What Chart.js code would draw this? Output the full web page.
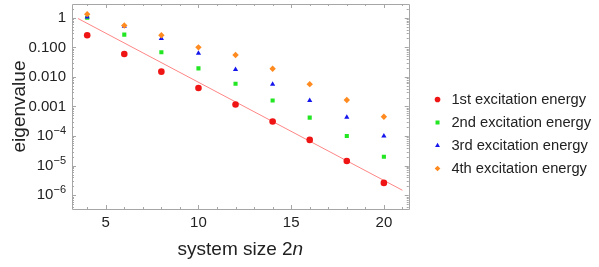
<!DOCTYPE html>
<html>
<head>
<meta charset="utf-8">
<script src="https://cdn.jsdelivr.net/npm/chart.js@4.4.0/dist/chart.umd.min.js"></script>
<style>
  html, body { margin: 0; padding: 0; background: #fff; }
  #wrap { width: 599px; height: 267px; }
</style>
</head>
<body>
<div id="wrap"><canvas id="chart"></canvas></div>
<script>
// system size 2n
const sizes = [4, 6, 8, 10, 12, 14, 16, 18, 20];
// eigenvalues
const first = [0.257, 0.060, 0.0151, 0.0042, 0.00117, 3.1e-4, 7.4e-5, 1.44e-5, 2.6e-6];
const second = [1.0, 0.27, 0.068, 0.0195, 0.0059, 0.0016, 4.2e-4, 1.0e-4, 2.0e-5];
const third = [1.07, 0.52, 0.20, 0.063, 0.018, 0.0057, 0.0016, 4.3e-4, 1.0e-4];
const fourth = [1.33, 0.55, 0.257, 0.10, 0.055, 0.019, 0.0057, 0.00166, 4.5e-4];
// fit line end points
const fitX = [3.5, 21];
const fitY = [0.95, 1.47e-6];

const seriesNames = ['1st excitation energy', '2nd excitation energy', '3rd excitation energy', '4th excitation energy'];
const xTicks = [5, 10, 15, 20];
const yTicks = [1e-6, 1e-5, 1e-4, 1e-3, 1e-2, 1e-1, 1];
const yTickLabels = ['10', '10', '10', '0.001', '0.010', '0.100', '1'];
const yTickExp = ['−6', '−5', '−4', '', '', '', ''];

const FONT = '"Liberation Sans", Arial, sans-serif';
Chart.defaults.font.family = FONT;
Chart.defaults.color = '#222';

const pts = (ys) => sizes.map((x, i) => ({ x: x, y: ys[i] }));

// frame + inward ticks, y labels with superscripts, x title with italic n
const framePlugin = {
    id: 'frame',
    beforeDatasetsDraw(c) {
        const ctx = c.ctx;
        const { left, right, top, bottom } = c.chartArea;
        const xs = c.scales.x, ys = c.scales.y;
        ctx.save();
        ctx.strokeStyle = '#a6a6a6';
        ctx.lineWidth = 1;
        ctx.beginPath();
        ctx.rect(Math.round(left) + 0.5, Math.round(top) + 0.5, Math.round(right - left), Math.round(bottom - top));
        for (let v = Math.ceil(xs.min); v <= xs.max; v++) {
            const len = xTicks.includes(v) ? 4 : 2;
            const px = Math.round(xs.getPixelForValue(v)) + 0.5;
            ctx.moveTo(px, bottom); ctx.lineTo(px, bottom - len);
            ctx.moveTo(px, top); ctx.lineTo(px, top + len);
        }
        for (let e = -7; e <= 0; e++) {
            for (let m = 1; m <= 9; m++) {
                const v = m * Math.pow(10, e);
                if (v < ys.min || v > ys.max) continue;
                const len = m === 1 ? 4 : 2;
                const py = Math.round(ys.getPixelForValue(v)) + 0.5;
                ctx.moveTo(left, py); ctx.lineTo(left + len, py);
                ctx.moveTo(right, py); ctx.lineTo(right - len, py);
            }
        }
        ctx.stroke();
        ctx.restore();
    },
    afterDraw(c) {
        const ctx = c.ctx;
        const { left, right } = c.chartArea;
        const ys = c.scales.y;
        ctx.save();
        ctx.fillStyle = '#222';
        ctx.textBaseline = 'middle';
        // y tick labels
        yTicks.forEach((v, i) => {
            const py = ys.getPixelForValue(v);
            const xr = left - 6;
            ctx.font = '11px ' + FONT;
            const we = ctx.measureText(yTickExp[i]).width;
            ctx.font = '15px ' + FONT;
            ctx.textAlign = 'right';
            ctx.fillText(yTickLabels[i], xr - we, py);
            if (yTickExp[i]) {
                ctx.font = '11px ' + FONT;
                ctx.fillText(yTickExp[i], xr, py - 5);
            }
        });
        // x title with italic n
        ctx.textAlign = 'left';
        const a = 'system size 2', b = 'n';
        ctx.font = '19px ' + FONT;
        const wa = ctx.measureText(a).width;
        ctx.font = 'italic 19px ' + FONT;
        const wb = ctx.measureText(b).width;
        const x0 = (left + right) / 2 - (wa + wb) / 2;
        ctx.font = '19px ' + FONT;
        ctx.fillText(a, x0, 250);
        ctx.font = 'italic 19px ' + FONT;
        ctx.fillText(b, x0 + wa, 250);
        ctx.restore();
    }
};

new Chart(document.getElementById('chart'), {
    type: 'scatter',
    data: {
        datasets: [
            { label: seriesNames[0], data: pts(first), backgroundColor: '#f01515', borderWidth: 0, pointStyle: 'circle', pointRadius: 3.3, order: 1 },
            { label: seriesNames[1], data: pts(second), backgroundColor: '#22e622', borderWidth: 0, pointStyle: 'rect', pointRadius: 2.9, order: 4 },
            { label: seriesNames[2], data: pts(third), backgroundColor: '#1515ee', borderWidth: 0, pointStyle: 'triangle', pointRadius: 3, order: 3 },
            { label: seriesNames[3], data: pts(fourth), backgroundColor: '#ff8a1f', borderWidth: 0, pointStyle: 'rectRot', pointRadius: 3.2, order: 2 },
            {
                label: 'fit', type: 'line', showLine: true,
                data: fitX.map((x, i) => ({ x: x, y: fitY[i] })),
                borderColor: '#ff8585', borderWidth: 1, pointRadius: 0, order: 5
            }
        ]
    },
    options: {
        responsive: true,
        maintainAspectRatio: false,
        animation: false,
        layout: { padding: { top: 1, right: -2, left: 0, bottom: 0 } },
        scales: {
            x: {
                type: 'linear', min: 3.18, max: 21.34,
                afterBuildTicks: (s) => { s.ticks = xTicks.map(v => ({ value: v })); },
                afterFit: (s) => { s.height = 58; },
                grid: { display: false, drawTicks: false },
                border: { display: false },
                ticks: { padding: 5, autoSkip: false, maxRotation: 0, font: { size: 15 } }
            },
            y: {
                type: 'logarithmic', min: 3.41e-7, max: 2.93,
                afterBuildTicks: (s) => { s.ticks = yTicks.map(v => ({ value: v })); },
                afterFit: (s) => { s.width = 72; },
                grid: { display: false, drawTicks: false },
                border: { display: false },
                ticks: { display: false },
                title: { display: true, text: 'eigenvalue', font: { size: 19 }, padding: { top: 8 } }
            },
            gap: {
                type: 'linear', position: 'right', display: true,
                grid: { display: false, drawTicks: false },
                border: { display: false },
                ticks: { display: false },
                afterFit: (s) => { s.width = 14; }
            }
        },
        plugins: {
            legend: {
                position: 'right',
                align: 'center',
                maxWidth: 240,
                labels: {
                    usePointStyle: true,
                    boxWidth: 13,
                    boxHeight: 4,
                    padding: 8.3,
                    font: { size: 14.7 },
                    filter: (item) => item.datasetIndex < 4,
                    sort: (a, b) => a.datasetIndex - b.datasetIndex
                }
            },
            tooltip: { enabled: false }
        }
    },
    plugins: [framePlugin]
});
</script>
</body>
</html>
